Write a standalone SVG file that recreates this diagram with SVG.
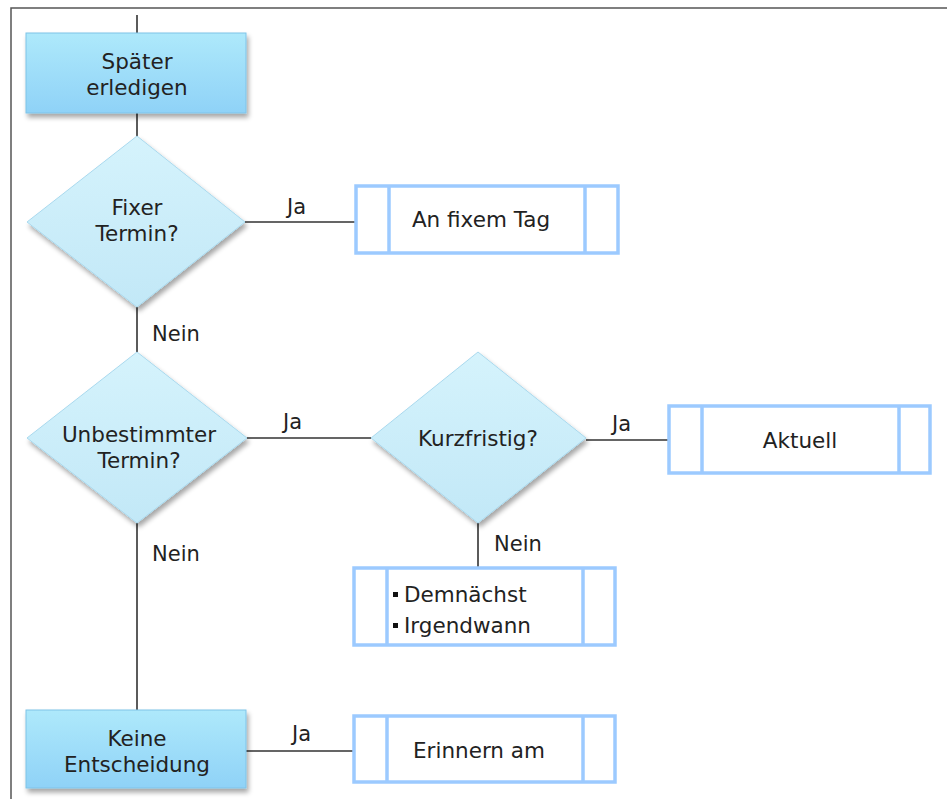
<svg xmlns="http://www.w3.org/2000/svg" width="947" height="799" viewBox="0 0 947 799">
<style>
.t{font-family:"DejaVu Sans","Verdana",sans-serif;font-size:21.5px;fill:#222;text-anchor:middle}
.l{font-family:"DejaVu Sans","Verdana",sans-serif;font-size:21px;fill:#222}
.c{stroke:#333;stroke-width:1.6;fill:none}
.box{fill:#fff;stroke:#9ccaff;stroke-width:3.5}
.proc{fill:url(#gp);stroke:#7fc3e8;stroke-width:1;filter:url(#sh)}
.dia{fill:url(#gd);stroke:#a9d9ee;stroke-width:1;filter:url(#sh)}
</style>
<defs>
<linearGradient id="gp" x1="0" y1="0" x2="0" y2="1">
<stop offset="0" stop-color="#aee9fb"/>
<stop offset="1" stop-color="#8fd2f7"/>
</linearGradient>
<linearGradient id="gd" x1="0" y1="0" x2="0" y2="1">
<stop offset="0" stop-color="#d5f3fc"/>
<stop offset="1" stop-color="#c2e8f7"/>
</linearGradient>
<filter id="sh" x="-10%" y="-10%" width="125%" height="130%">
<feGaussianBlur in="SourceAlpha" stdDeviation="2.5"/>
<feOffset dx="2" dy="4" result="b"/>
<feComponentTransfer><feFuncA type="linear" slope="0.35"/></feComponentTransfer>
<feMerge><feMergeNode/><feMergeNode in="SourceGraphic"/></feMerge>
</filter>
</defs>
<rect width="947" height="799" fill="#fff"/>
<path d="M11 799V8H947" stroke="#555" stroke-width="1.5" fill="none"/>
<g id="connectors">
<path class="c" d="M137 15V33M137 113V137M137 307V352M137 523V710"/>
<path class="c" d="M245 222H355M247 438H371M586 440H668M478 523V567M246 751H353"/>
<text class="l" x="287" y="214">Ja</text>
<text class="l" x="152" y="341">Nein</text>
<text class="l" x="283" y="429">Ja</text>
<text class="l" x="612" y="431">Ja</text>
<text class="l" x="494" y="551">Nein</text>
<text class="l" x="152" y="561">Nein</text>
<text class="l" x="292" y="741">Ja</text>
</g>
<g id="spaeter">
<rect class="proc" x="26" y="33" width="220" height="80"/>
<text class="t" x="137" y="69">Später</text>
<text class="t" x="137" y="95">erledigen</text>
</g>
<g id="fixer">
<polygon class="dia" points="137,136 245,222 137,307 27,222"/>
<text class="t" x="137" y="215">Fixer</text>
<text class="t" x="137" y="241">Termin?</text>
</g>
<g id="fixemtag">
<rect class="box" x="356" y="186" width="262" height="67"/>
<path class="box" d="M389 186V253M585 186V253"/>
<text class="t" x="481" y="227">An fixem Tag</text>
</g>
<g id="unbestimmt">
<polygon class="dia" points="137,352 247,438 137,523 27,438"/>
<text class="t" x="139" y="442">Unbestimmter</text>
<text class="t" x="139" y="468">Termin?</text>
</g>
<g id="kurzfristig">
<polygon class="dia" points="478,352 586,438 478,523 371,438"/>
<text class="t" x="478" y="446">Kurzfristig?</text>
</g>
<g id="aktuell">
<rect class="box" x="669" y="406" width="261" height="67"/>
<path class="box" d="M702 406V473M899 406V473"/>
<text class="t" x="800" y="448">Aktuell</text>
</g>
<g id="demnaechst">
<rect class="box" x="354" y="568" width="261" height="77"/>
<path class="box" d="M387 568V645M583 568V645"/>
<rect x="393" y="592" width="5" height="5" fill="#111"/>
<rect x="393" y="623" width="5" height="5" fill="#111"/>
<text class="t" x="404" y="602" style="text-anchor:start">Demnächst</text>
<text class="t" x="404" y="633" style="text-anchor:start">Irgendwann</text>
</g>
<g id="keine">
<rect class="proc" x="26" y="710" width="220" height="78"/>
<text class="t" x="137" y="746">Keine</text>
<text class="t" x="137" y="772">Entscheidung</text>
</g>
<g id="erinnern">
<rect class="box" x="354" y="716" width="261" height="66"/>
<path class="box" d="M387 716V782M583 716V782"/>
<text class="t" x="479" y="758">Erinnern am</text>
</g>
</svg>
